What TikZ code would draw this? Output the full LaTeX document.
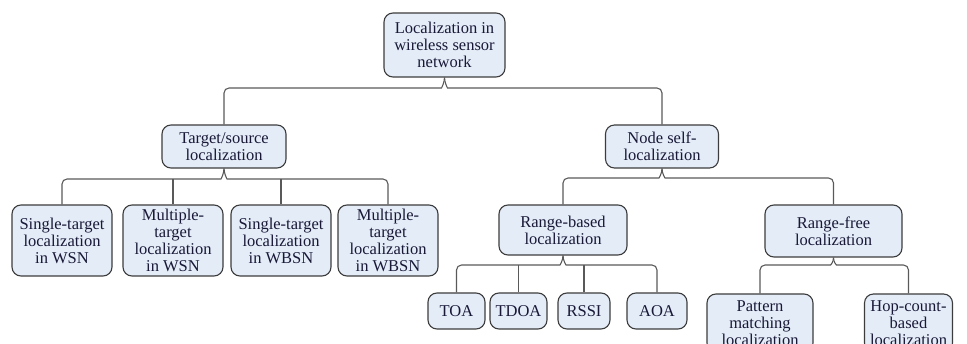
\documentclass[tikz,border=0pt]{standalone}
\usepackage{fontspec}
\setmainfont{Liberation Serif}
\definecolor{boxfill}{RGB}{228,236,248}
\definecolor{boxline}{RGB}{60,60,60}
\definecolor{inktext}{RGB}{25,25,55}

\begin{document}
\begin{tikzpicture}[x=1pt, y=-1pt,
    box/.style={draw=boxline, fill=boxfill, line width=1.1pt, rounded corners=9pt,
      align=center, inner sep=1pt, text=inktext, font=\fontsize{16.5}{17}\selectfont},
    link/.style={draw=boxline!85, line width=1.1pt, rounded corners=5pt}]
      \clip (0,0) rectangle (967,344);
      % levels 0 and 1
      \node[box, minimum width=121pt, minimum height=64pt] (root) at (444.5, 45) {Localization in\\wireless sensor\\network};
      \node[box, minimum width=124pt, minimum height=43pt] (tgt) at (224, 146.5) {Target/source\\localization};
      \node[box, minimum width=113pt, minimum height=43pt] (self) at (662, 146.5) {Node self-\\localization};
      % target/source branch
      \node[box, minimum width=100pt, minimum height=71pt] (stwsn) at (62, 240.5) {Single-target\\localization\\in WSN};
      \node[box, minimum width=100pt, minimum height=71pt] (mtwsn) at (173, 240.5) {Multiple-\\target\\localization\\in WSN};
      \node[box, minimum width=100pt, minimum height=71pt] (stwbsn) at (281, 240.5) {Single-target\\localization\\in WBSN};
      \node[box, minimum width=100pt, minimum height=71pt] (mtwbsn) at (388, 240.5) {Multiple-\\target\\localization\\in WBSN};
      % node self-localization branch
      \node[box, minimum width=128pt, minimum height=50pt] (rb) at (563, 230) {Range-based\\localization};
      \node[box, minimum width=137pt, minimum height=52pt] (rf) at (833.5, 231) {Range-free\\localization};
      \node[box, minimum width=57pt, minimum height=36pt] (toa) at (456.5, 311) {TOA};
      \node[box, minimum width=57pt, minimum height=36pt] (tdoa) at (518.5, 311) {TDOA};
      \node[box, minimum width=52pt, minimum height=36pt] (rssi) at (584, 311) {RSSI};
      \node[box, minimum width=60pt, minimum height=36pt] (aoa) at (657, 311) {AOA};
      \node[box, minimum width=106pt, minimum height=58pt] (pm) at (760, 323) {Pattern\\matching\\localization};
      \node[box, minimum width=88pt, minimum height=58pt] (hc) at (908.5, 323) {Hop-count-\\based\\localization};
      % bracket points under each parent
      \coordinate (b0) at (root.south |- 0,88);
      \coordinate (b1) at (tgt.south |- 0,179);
      \coordinate (b2) at (self.south |- 0,178);
      \coordinate (b3) at (rb.south |- 0,265);
      \coordinate (b4) at (rf.south |- 0,265);
      % connectors
      \draw[link] (tgt.north) |- ([xshift=-8pt]b0) .. controls +(5,0) and +(0,5) .. (root.south);
      \draw[link] (self.north) |- ([xshift=8pt]b0) .. controls +(-5,0) and +(0,5) .. (root.south);
      \draw[link] (stwsn.north) |- ([xshift=-8pt]b1) .. controls +(5,0) and +(0,5) .. (tgt.south);
      \draw[link] (mtwbsn.north) |- ([xshift=8pt]b1) .. controls +(-5,0) and +(0,5) .. (tgt.south);
      \draw[link] (mtwsn.north) -- (mtwsn.north |- b1);
      \draw[link] (stwbsn.north) -- (stwbsn.north |- b1);
      \draw[link] (rb.north) |- ([xshift=-8pt]b2) .. controls +(5,0) and +(0,5) .. (self.south);
      \draw[link] (rf.north) |- ([xshift=8pt]b2) .. controls +(-5,0) and +(0,5) .. (self.south);
      \draw[link] (toa.north) |- ([xshift=-8pt]b3) .. controls +(5,0) and +(0,5) .. (rb.south);
      \draw[link] (aoa.north) |- ([xshift=8pt]b3) .. controls +(-5,0) and +(0,5) .. (rb.south);
      \draw[link] (tdoa.north) -- (tdoa.north |- b3);
      \draw[link] (rssi.north) -- (rssi.north |- b3);
      \draw[link] (pm.north) |- ([xshift=-8pt]b4) .. controls +(5,0) and +(0,5) .. (rf.south);
      \draw[link] (hc.north) |- ([xshift=8pt]b4) .. controls +(-5,0) and +(0,5) .. (rf.south);
\end{tikzpicture}
\end{document}
